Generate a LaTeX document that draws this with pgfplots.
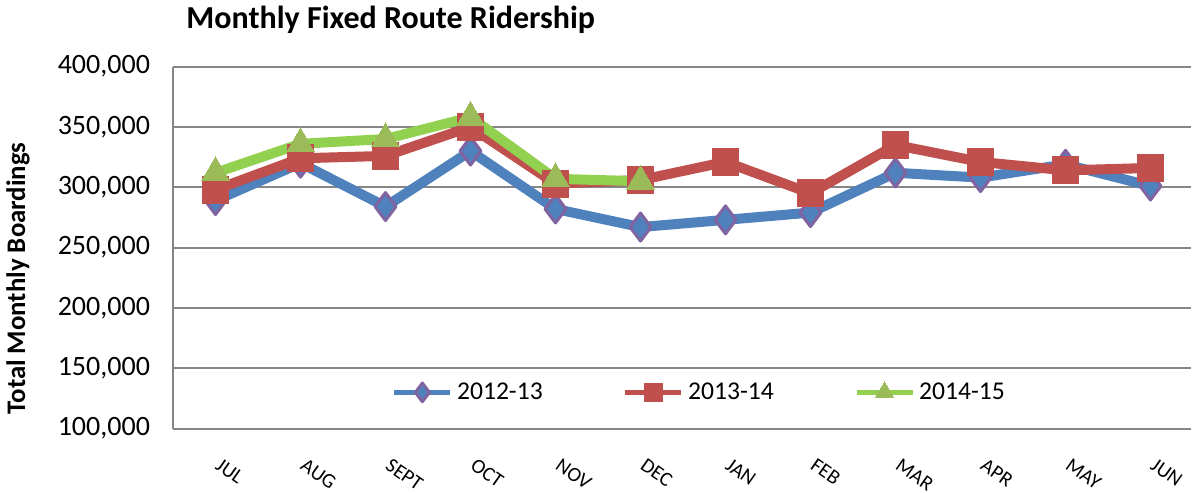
\documentclass[border=0pt]{standalone}
\usepackage{fontspec}
\setmainfont{Carlito}
\usepackage{pgfplots}
\pgfplotsset{compat=1.18}

\definecolor{cblue}{HTML}{4F81BD}
\definecolor{cpurple}{HTML}{8064A2}
\definecolor{cred}{HTML}{C0504D}
\definecolor{cgreen}{HTML}{92D050}
\definecolor{cgreenmk}{HTML}{9BBB59}
\definecolor{cgrid}{HTML}{868686}

\begin{document}
\begin{tikzpicture}
\begin{axis}[name=ax, scale only axis, width=509pt, height=181pt,
  xmin=-0.5, xmax=11.4765, ymin=100000, ymax=400000,
  ytick={100000,150000,200000,250000,300000,350000,400000},
  xtick={0,...,11},
  xticklabels={JUL,AUG,SEPT,OCT,NOV,DEC,JAN,FEB,MAR,APR,MAY,JUN},
  ymajorgrids, grid style={cgrid, line width=1pt},
  axis x line*=bottom, axis y line*=left,
  axis line style={-, cgrid, line width=1pt},
  major tick length=0pt,
  scaled y ticks=false,
  yticklabel style={font=\fontsize{14}{16}\selectfont, xshift=-8pt,
    /pgf/number format/fixed, /pgf/number format/1000 sep={,},
    /pgf/number format/assume math mode=true},
  xticklabel style={font=\fontsize{10.2}{12}\selectfont, rotate=-35,
    anchor=north west, yshift=-6.6pt, xshift=7.5pt},
  legend style={draw=none, fill=none, at={(0.2144,0.100)}, anchor=west,
    inner sep=0pt, font=\fontsize{12.8}{15}\selectfont,
    /tikz/every even column/.append style={column sep=38pt}},
  legend columns=3,
  legend image code/.code={\draw[#1, line width=2.7pt, mark repeat=2, mark phase=2,
    every mark/.append style={scale=0.67}]
    plot coordinates {(0pt,0pt) (14pt,0pt) (28pt,0pt)};},
  line join=round,
]
\addplot[cblue, line width=5pt, mark=diamond*, mark size=7pt,
  mark options={solid, fill=cblue, draw=cpurple, line width=1.5pt}]
  coordinates {(0,289000) (1,320000) (2,284000) (3,330000) (4,282000) (5,267000)
               (6,273000) (7,279000) (8,312000) (9,308000) (10,319000) (11,301000)};
\addlegendentry{2012-13}
\addplot[cred, line width=5pt, mark=square*, mark size=6.7pt,
  mark options={solid, fill=cred, draw=cred, line width=0pt}]
  coordinates {(0,298000) (1,324000) (2,326000) (3,350000) (4,303000) (5,306000)
               (6,321000) (7,295000) (8,335000) (9,321000) (10,314000) (11,316000)};
\addlegendentry{2013-14}
\addplot[cgreen, line width=5pt, mark=triangle*, mark size=8pt,
  mark options={solid, fill=cgreenmk, draw=cgreenmk, line width=0pt}]
  coordinates {(0,312000) (1,336000) (2,340000) (3,358000) (4,307000) (5,305000)};
\addlegendentry{2014-15}
\end{axis}
\node[anchor=west, font=\bfseries\fontsize{16}{19}\selectfont]
  at ([xshift=3.2pt, yshift=23.3pt]ax.north west) {Monthly Fixed Route Ridership};
\node[rotate=90, font=\bfseries\fontsize{13.4}{16}\selectfont]
  at ([xshift=-77.5pt, yshift=75.1pt]ax.south west) {Total Monthly Boardings};
\pgfresetboundingbox
\path[use as bounding box] ([xshift=-86.5pt,yshift=-32pt]ax.south west)
  rectangle ([xshift=1pt,yshift=33.3pt]ax.north east);
\end{tikzpicture}
\end{document}
